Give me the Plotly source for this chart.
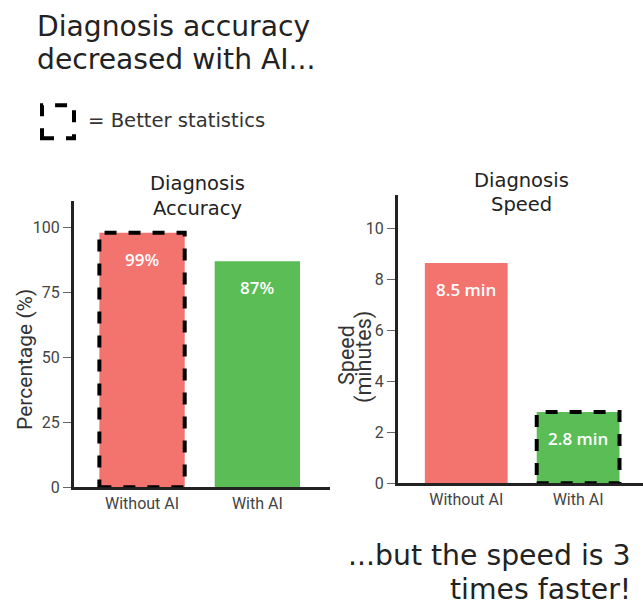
import plotly.graph_objects as go

categories = ["Without AI", "With AI"]
accuracy_values = [98, 87]
accuracy_labels = ["99%", "87%"]
speed_values = [8.65, 2.8]
speed_labels = ["8.5 min", "2.8 min"]
accuracy_ticks = [0, 25, 50, 75, 100]
speed_ticks = [0, 2, 4, 6, 8, 10]
bar_colors = ["#F3736F", "#5ABD55"]
better_accuracy = [True, False]
better_speed = [False, True]

W, H = 643, 605
HY = 593.5  # effective vertical extent used for placement
BAR_W = 0.74
TITLE_FONT = "DejaVu Sans"
TICK_FONT = "Roboto"
LABEL_FONT = dict(family="Open Sans", size=17, color="white", weight=600)


def fy(y):
    return 1 - y / HY


fig = go.Figure()
fig.add_trace(go.Bar(x=[0, 1], y=accuracy_values, marker_color=bar_colors, width=BAR_W,
                     marker_line_width=0, xaxis="x", yaxis="y", showlegend=False, hoverinfo="skip"))
fig.add_trace(go.Bar(x=[0, 1], y=speed_values, marker_color=bar_colors, width=BAR_W,
                     marker_line_width=0, xaxis="x2", yaxis="y2", showlegend=False, hoverinfo="skip"))

shapes = []
annotations = []
for i, (v, lab, b) in enumerate(zip(accuracy_values, accuracy_labels, better_accuracy)):
    annotations.append(dict(x=i, y=v, xref="x", yref="y", text=lab, showarrow=False,
                            yanchor="top", yshift=-13, font=LABEL_FONT))
    if b:
        shapes.append(dict(type="rect", xref="x", yref="y", x0=i - BAR_W / 2, x1=i + BAR_W / 2, y0=0, y1=v,
                           line=dict(color="black", width=4, dash="dash"), fillcolor="rgba(0,0,0,0)"))
for i, (v, lab, b) in enumerate(zip(speed_values, speed_labels, better_speed)):
    annotations.append(dict(x=i, y=v, xref="x2", yref="y2", text=lab, showarrow=False,
                            yanchor="top", yshift=-13, font=LABEL_FONT))
    if b:
        shapes.append(dict(type="rect", xref="x2", yref="y2", x0=i - BAR_W / 2, x1=i + BAR_W / 2, y0=0, y1=v,
                           line=dict(color="black", width=4, dash="dash"), fillcolor="rgba(0,0,0,0)"))

# legend square
shapes.append(dict(type="rect", xref="paper", yref="paper",
                   x0=42 / W, x1=74 / W, y0=fy(138), y1=fy(105),
                   line=dict(color="black", width=4, dash="dash"), fillcolor="rgba(0,0,0,0)"))


def text_at(x, y, text, size, family=TITLE_FONT, color="#222222", xanchor="left", angle=0):
    return dict(x=x / W, y=fy(y), xref="paper", yref="paper", xanchor=xanchor, yanchor="middle",
                text=text, showarrow=False, textangle=angle,
                font=dict(family=family, size=size, color=color))


annotations += [
    text_at(35, 26, "Diagnosis accuracy", 28.2),
    text_at(35, 59, "decreased with AI...", 28.2),
    text_at(86, 120, "= Better statistics", 19.6, color="#333333"),
    text_at(198, 183, "Diagnosis", 19.5, xanchor="center"),
    text_at(198, 208, "Accuracy", 19.5, xanchor="center"),
    text_at(521, 180, "Diagnosis", 19.5, xanchor="center"),
    text_at(521, 204, "Speed", 19.5, xanchor="center"),
    text_at(633, 554, "...but the speed is 3", 28.3, xanchor="right"),
    text_at(633, 588, "times faster!", 28.3, xanchor="right"),
    text_at(25, 359, "Percentage (%)", 21, family=TICK_FONT, color="#333333", xanchor="center", angle=-90),
    text_at(347, 354, "Speed", 21.5, family=TICK_FONT, color="#333333", xanchor="center", angle=-90),
    text_at(364, 356, "(minutes)", 21.5, family=TICK_FONT, color="#333333", xanchor="center", angle=-90),
]

axis_common = dict(showline=True, linecolor="#222222", linewidth=3, showgrid=False, zeroline=False,
                   tickfont=dict(family=TICK_FONT, size=16, color="#444444"))

fig.update_layout(
    width=W, height=H, margin=dict(l=0, r=0, t=0, b=0),
    plot_bgcolor="white", paper_bgcolor="white",
    xaxis=dict(domain=[74 / W, 330 / W], range=[-0.59, 1.63], tickmode="array", tickvals=[0, 1],
               ticktext=categories, ticks="", anchor="y", **axis_common),
    yaxis=dict(domain=[fy(486), fy(200)], range=[0, 110.4], tickmode="array", tickvals=accuracy_ticks,
               ticks="outside", ticklen=8, tickcolor="#666666", tickwidth=1, anchor="x", **axis_common),
    xaxis2=dict(domain=[398 / W, 1.0], range=[-0.61, 1.58], tickmode="array", tickvals=[0, 1],
                ticktext=categories, ticks="", anchor="y2", **axis_common),
    yaxis2=dict(domain=[fy(482), fy(195)], range=[0, 11.3], tickmode="array", tickvals=speed_ticks,
                ticks="outside", ticklen=8, tickcolor="#666666", tickwidth=1, anchor="x2", **axis_common),
    shapes=shapes, annotations=annotations,
)

post = "document.body.style.margin='0';document.body.style.overflow='hidden';"
fig.write_html("out.html", config={"displayModeBar": False}, post_script=post)
